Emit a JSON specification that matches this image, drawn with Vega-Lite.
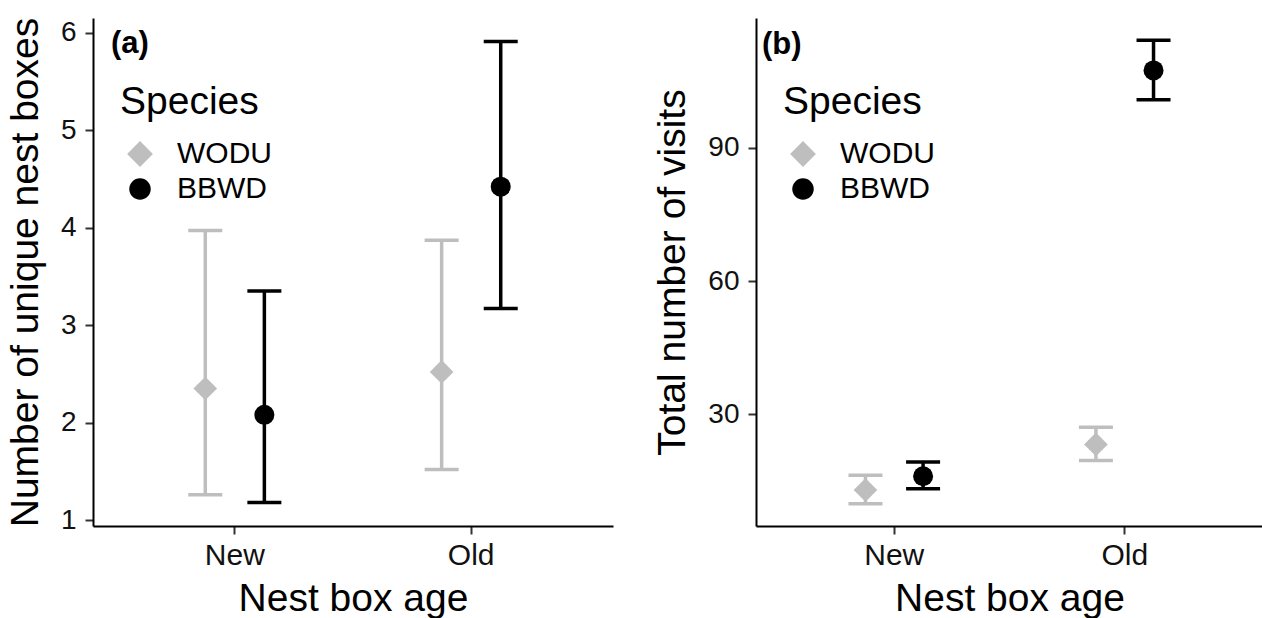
{
  "$schema": "https://vega.github.io/schema/vega-lite/v6.json",
  "background": "white",
  "padding": {"left": 6, "top": 17, "right": 0, "bottom": 0},
  "datasets": {
    "boxes": [
      {"age": "New", "species": "WODU", "est": 2.35, "lo": 1.26, "hi": 3.97},
      {"age": "New", "species": "BBWD", "est": 2.08, "lo": 1.18, "hi": 3.35},
      {"age": "Old", "species": "WODU", "est": 2.52, "lo": 1.52, "hi": 3.87},
      {"age": "Old", "species": "BBWD", "est": 4.42, "lo": 3.17, "hi": 5.91}
    ],
    "visits": [
      {"age": "New", "species": "WODU", "est": 13.0, "lo": 9.9, "hi": 16.3},
      {"age": "New", "species": "BBWD", "est": 16.1, "lo": 13.3, "hi": 19.3},
      {"age": "Old", "species": "WODU", "est": 23.25, "lo": 19.65, "hi": 27.1},
      {"age": "Old", "species": "BBWD", "est": 107.4, "lo": 100.8, "hi": 114.2}
    ]
  },
  "config": {
    "font": "Liberation Sans",
    "view": {"stroke": null},
    "axis": {"grid": false, "domainColor": "#000000", "domainWidth": 2, "tickColor": "#333333", "tickWidth": 2, "tickSize": 8, "labelColor": "#111111", "titleColor": "#000000", "labelFont": "Liberation Sans", "titleFont": "Liberation Sans", "titleFontWeight": "normal"},
    "axisY": {"labelFontSize": 28, "titleFontSize": 39, "titlePadding": 15, "labelPadding": 9, "format": "d"},
    "axisX": {"labelFontSize": 30, "titleFontSize": 39, "labelAngle": 0, "titlePadding": 9, "labelPadding": 6},
    "legend": {"orient": "none", "legendX": 27, "legendY": 65, "titleFontSize": 39, "titleFontWeight": "normal", "labelFontSize": 30, "titleColor": "#000000", "labelColor": "#000000", "titlePadding": 17, "rowPadding": 5, "labelOffset": 22, "symbolOffset": 5, "symbolOpacity": 1, "padding": 0, "titleFont": "Liberation Sans", "labelFont": "Liberation Sans"},
    "title": {"anchor": "start", "fontSize": 31, "fontWeight": "bold", "frame": "group", "color": "#000000", "baseline": "alphabetic", "offset": 0, "font": "Liberation Sans"}
  },
  "spacing": 40,
  "resolve": {"scale": {"x": "independent", "y": "independent", "color": "independent", "shape": "independent", "size": "independent", "xOffset": "independent"}},
  "hconcat": [
    {
      "width": 520,
      "height": 508,
      "title": {"text": "(a)", "dx": 18, "dy": 47},
      "data": {"name": "boxes"},
      "encoding": {
        "x": {"field": "age", "type": "nominal", "sort": ["New", "Old"], "scale": {"paddingInner": 0.5, "paddingOuter": 0.35}, "axis": {"title": "Nest box age"}},
        "xOffset": {"field": "species", "type": "nominal", "scale": {"domain": ["WODU", "BBWD"], "paddingInner": 0, "paddingOuter": 0}},
        "color": {"field": "species", "type": "nominal", "title": "Species", "scale": {"domain": ["WODU", "BBWD"], "range": ["#bebebe", "#000000"]}}
      },
      "layer": [
        {
          "mark": {"type": "rule", "strokeWidth": 3.5, "opacity": 1},
          "encoding": {
            "y": {"field": "lo", "type": "quantitative", "title": "Number of unique nest boxes", "scale": {"domain": [0.94, 6.15], "nice": false, "zero": false}, "axis": {"values": [1, 2, 3, 4, 5, 6]}},
            "y2": {"field": "hi"}
          }
        },
        {
          "mark": {"type": "tick", "thickness": 3.5, "size": 34, "opacity": 1},
          "encoding": {"y": {"field": "lo", "type": "quantitative", "title": "Number of unique nest boxes"}}
        },
        {
          "mark": {"type": "tick", "thickness": 3.5, "size": 34, "opacity": 1},
          "encoding": {"y": {"field": "hi", "type": "quantitative", "title": "Number of unique nest boxes"}}
        },
        {
          "mark": {"type": "point", "filled": true, "opacity": 1},
          "encoding": {
            "y": {"field": "est", "type": "quantitative", "title": "Number of unique nest boxes"},
            "shape": {"field": "species", "type": "nominal", "title": "Species", "scale": {"domain": ["WODU", "BBWD"], "range": ["diamond", "circle"]}},
            "size": {"field": "species", "type": "nominal", "title": "Species", "scale": {"domain": ["WODU", "BBWD"], "range": [560, 400]}}
          }
        }
      ]
    },
    {
      "width": 507,
      "height": 508,
      "title": {"text": "(b)", "dx": 6, "dy": 47},
      "data": {"name": "visits"},
      "encoding": {
        "x": {"field": "age", "type": "nominal", "sort": ["New", "Old"], "scale": {"paddingInner": 0.5, "paddingOuter": 0.35}, "axis": {"title": "Nest box age"}},
        "xOffset": {"field": "species", "type": "nominal", "scale": {"domain": ["WODU", "BBWD"], "paddingInner": 0, "paddingOuter": 0}},
        "color": {"field": "species", "type": "nominal", "title": "Species", "scale": {"domain": ["WODU", "BBWD"], "range": ["#bebebe", "#000000"]}}
      },
      "layer": [
        {
          "mark": {"type": "rule", "strokeWidth": 3.5, "opacity": 1},
          "encoding": {
            "y": {"field": "lo", "type": "quantitative", "title": "Total number of visits", "scale": {"domain": [4.9, 119.2], "nice": false, "zero": false}, "axis": {"values": [30, 60, 90]}},
            "y2": {"field": "hi"}
          }
        },
        {
          "mark": {"type": "tick", "thickness": 3.5, "size": 34, "opacity": 1},
          "encoding": {"y": {"field": "lo", "type": "quantitative", "title": "Total number of visits"}}
        },
        {
          "mark": {"type": "tick", "thickness": 3.5, "size": 34, "opacity": 1},
          "encoding": {"y": {"field": "hi", "type": "quantitative", "title": "Total number of visits"}}
        },
        {
          "mark": {"type": "point", "filled": true, "opacity": 1},
          "encoding": {
            "y": {"field": "est", "type": "quantitative", "title": "Total number of visits"},
            "shape": {"field": "species", "type": "nominal", "title": "Species", "scale": {"domain": ["WODU", "BBWD"], "range": ["diamond", "circle"]}},
            "size": {"field": "species", "type": "nominal", "title": "Species", "scale": {"domain": ["WODU", "BBWD"], "range": [560, 400]}}
          }
        }
      ]
    }
  ]
}
